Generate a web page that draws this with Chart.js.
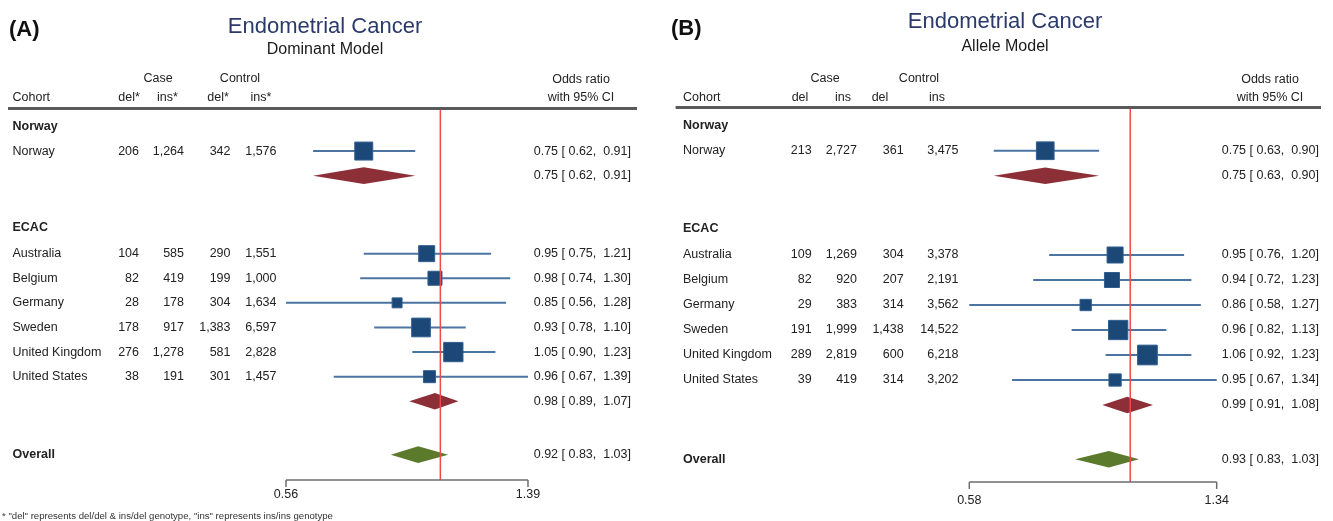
<!DOCTYPE html>
<html>
<head>
<meta charset="utf-8">
<script src="https://cdn.jsdelivr.net/npm/chart.js@4.4.1/dist/chart.umd.min.js"></script>
<style>
html,body{margin:0;padding:0;background:#fff;overflow:hidden;}
#wrap{position:relative;width:1333px;height:521px;background:#fff;}
canvas{position:absolute;top:0;}
#cA{left:0;}
#cB{left:665px;}
</style>
</head>
<body>
<div id="wrap">
<canvas id="cA" width="665" height="521"></canvas>
<canvas id="cB" width="668" height="521"></canvas>
</div>
<script>
// ---------- DATA ----------
const cohorts = ["Norway", "Australia", "Belgium", "Germany", "Sweden", "United Kingdom", "United States"];
const groupHeadings = ["Norway", "ECAC", "Overall"];

// (A) Dominant model
const domCaseDel = [206, 104, 82, 28, 178, 276, 38];
const domCaseIns = [1264, 585, 419, 178, 917, 1278, 191];
const domCtrlDel = [342, 290, 199, 304, 1383, 581, 301];
const domCtrlIns = [1576, 1551, 1000, 1634, 6597, 2828, 1457];
const domOR = [0.75, 0.95, 0.98, 0.85, 0.93, 1.05, 0.96];
const domLo = [0.62, 0.75, 0.74, 0.56, 0.78, 0.90, 0.67];
const domHi = [0.91, 1.21, 1.30, 1.28, 1.10, 1.23, 1.39];
const domWeight = [18.6, 14.7, 11.3, 5.7, 20.1, 21.4, 8.3];
const domPooledOR = [0.75, 0.98, 0.92];
const domPooledLo = [0.62, 0.89, 0.83];
const domPooledHi = [0.91, 1.07, 1.03];
const domTicks = [0.56, 1.39];

// (B) Allele model
const allCaseDel = [213, 109, 82, 29, 191, 289, 39];
const allCaseIns = [2727, 1269, 920, 383, 1999, 2819, 419];
const allCtrlDel = [361, 304, 207, 314, 1438, 600, 314];
const allCtrlIns = [3475, 3378, 2191, 3562, 14522, 6218, 3202];
const allOR = [0.75, 0.95, 0.94, 0.86, 0.96, 1.06, 0.95];
const allLo = [0.63, 0.76, 0.72, 0.58, 0.82, 0.92, 0.67];
const allHi = [0.90, 1.20, 1.23, 1.27, 1.13, 1.23, 1.34];
const allWeight = [17.1, 14.0, 12.3, 7.0, 20.3, 21.2, 8.2];
const allPooledOR = [0.75, 0.99, 0.93];
const allPooledLo = [0.63, 0.91, 0.83];
const allPooledHi = [0.90, 1.08, 1.03];
const allTicks = [0.58, 1.34];

// ---------- LAYOUT (row positions, in row units) ----------
const studyRows = [1, 5.17, 6.17, 7.17, 8.17, 9.17, 10.17];
const pooledRows = [2, 11.17, 13.34];
const headingRows = [0, 4.1, 13.34];

// ---------- STYLE ----------
const FONT = '"Liberation Sans", Arial, Helvetica, sans-serif';
const TXT = '#222';
const SQ = '#1b4877';
const SQ_EDGE = '#2f5e90';
const CI = '#4c74a1';
const DIA = ['#8c2f37', '#8c2f37', '#5b7a2b'];
const NULLC = '#f0494b';
const AXC = '#6d6d6d';
const DIAMOND_HALF = 8.3;

const fmtN = v => v.toLocaleString('en-US');
const f2 = v => v.toFixed(2);
const fmtCI = (o, l, h) => f2(o) + ' [ ' + f2(l) + ',  ' + f2(h) + ']';

function makePanel(canvasId, P) {
  const W = P.W, H = 521;
  const datasets = [];
  datasets.push({
    type: 'scatter',
    data: P.or.map((v, i) => ({ x: v, y: studyRows[i] })),
    pointStyle: 'rect',
    pointRadius: P.weight.map(w => P.k * Math.sqrt(w) / (2 * Math.SQRT1_2)),
    pointHoverRadius: P.weight.map(w => P.k * Math.sqrt(w) / (2 * Math.SQRT1_2)),
    backgroundColor: SQ,
    borderColor: SQ_EDGE,
    borderWidth: 1,
    clip: false,
    order: 1
  });
  P.lo.forEach((lo, i) => {
    datasets.push({
      type: 'line',
      data: [{ x: lo, y: studyRows[i] }, { x: P.hi[i], y: studyRows[i] }],
      borderColor: CI,
      borderWidth: 2,
      pointRadius: 0,
      fill: false,
      clip: false,
      order: 2
    });
  });

  const plugin = {
    id: 'forest' + canvasId,
    afterDatasetsDraw(chart) {
      const ctx = chart.ctx, xs = chart.scales.x, ys = chart.scales.y, ca = chart.chartArea;
      ctx.save();
      // pooled diamonds
      P.pOR.forEach((v, i) => {
        const y = ys.getPixelForValue(pooledRows[i]);
        const xl = xs.getPixelForValue(P.pLo[i]);
        const xm = xs.getPixelForValue(v);
        const xh = xs.getPixelForValue(P.pHi[i]);
        ctx.beginPath();
        ctx.moveTo(xl, y);
        ctx.lineTo(xm, y - DIAMOND_HALF);
        ctx.lineTo(xh, y);
        ctx.lineTo(xm, y + DIAMOND_HALF);
        ctx.closePath();
        ctx.fillStyle = DIA[i];
        ctx.fill();
      });
      // null line
      const x1 = xs.getPixelForValue(1);
      ctx.strokeStyle = NULLC;
      ctx.lineWidth = 1.5;
      ctx.beginPath();
      ctx.moveTo(x1, ca.top + 2);
      ctx.lineTo(x1, ca.bottom);
      ctx.stroke();
      // x axis
      const xa = xs.getPixelForValue(P.ticks[0]);
      const xb = xs.getPixelForValue(P.ticks[P.ticks.length - 1]);
      ctx.strokeStyle = AXC;
      ctx.lineWidth = 1.5;
      ctx.beginPath();
      ctx.moveTo(xa, ca.bottom);
      ctx.lineTo(xb, ca.bottom);
      ctx.stroke();
      P.ticks.forEach(t => {
        const xt = xs.getPixelForValue(t);
        ctx.beginPath();
        ctx.moveTo(xt, ca.bottom);
        ctx.lineTo(xt, ca.bottom + 7);
        ctx.stroke();
      });
      ctx.fillStyle = TXT;
      ctx.font = '12.5px ' + FONT;
      ctx.textAlign = 'center';
      ctx.textBaseline = 'middle';
      P.ticks.forEach(t => {
        ctx.fillText(f2(t), xs.getPixelForValue(t), ca.bottom + P.labelGap);
      });

      // header rule
      ctx.strokeStyle = '#5a5a5a';
      ctx.lineWidth = 3;
      ctx.beginPath();
      ctx.moveTo(P.rule[0], P.ruleY);
      ctx.lineTo(P.rule[1], P.ruleY);
      ctx.stroke();

      // titles
      ctx.textBaseline = 'middle';
      ctx.textAlign = 'left';
      ctx.fillStyle = '#111';
      ctx.font = 'bold 22px ' + FONT;
      ctx.fillText(P.tag, P.tagX, P.tagY);
      ctx.textAlign = 'center';
      ctx.fillStyle = '#2c3a6b';
      ctx.font = '22px ' + FONT;
      ctx.fillText('Endometrial Cancer', P.titleX, P.titleY);
      ctx.fillStyle = '#1a1a1a';
      ctx.font = '16px ' + FONT;
      ctx.fillText(P.subtitle, P.titleX, P.subY);

      // column headers
      ctx.fillStyle = TXT;
      ctx.font = '12.5px ' + FONT;
      ctx.textAlign = 'center';
      ctx.fillText('Case', P.caseX, 78.5);
      ctx.fillText('Control', P.ctrlX, 78.5);
      P.hdrX.forEach((x, i) => ctx.fillText(P.hdr[i], x, 98));
      ctx.fillText('Odds ratio', P.orHX, 80);
      ctx.fillText('with 95% CI', P.orHX, 98);
      ctx.textAlign = 'left';
      ctx.fillText('Cohort', P.labX, 98);

      // group headings
      ctx.font = 'bold 12.5px ' + FONT;
      groupHeadings.forEach((g, i) => {
        ctx.fillText(g, P.labX, ys.getPixelForValue(headingRows[i]));
      });

      // study rows
      ctx.font = '12.5px ' + FONT;
      cohorts.forEach((c, i) => {
        const y = ys.getPixelForValue(studyRows[i]);
        ctx.textAlign = 'left';
        ctx.fillText(c, P.labX, y);
        ctx.textAlign = 'right';
        ctx.fillText(fmtN(P.caseDel[i]), P.colR[0], y);
        ctx.fillText(fmtN(P.caseIns[i]), P.colR[1], y);
        ctx.fillText(fmtN(P.ctrlDel[i]), P.colR[2], y);
        ctx.fillText(fmtN(P.ctrlIns[i]), P.colR[3], y);
        ctx.fillText(fmtCI(P.or[i], P.lo[i], P.hi[i]), P.orR, y);
      });
      P.pOR.forEach((v, i) => {
        const y = ys.getPixelForValue(pooledRows[i]);
        ctx.textAlign = 'right';
        ctx.fillText(fmtCI(v, P.pLo[i], P.pHi[i]), P.orR, y);
      });

      if (P.footnote) {
        ctx.textAlign = 'left';
        ctx.font = '9.6px ' + FONT;
        ctx.fillStyle = '#333';
        ctx.fillText(P.footnote, 2, 516);
      }
      ctx.restore();
    }
  };

  return new Chart(document.getElementById(canvasId), {
    type: 'scatter',
    data: { datasets },
    options: {
      responsive: false,
      animation: false,
      devicePixelRatio: 1,
      events: [],
      layout: { padding: { left: P.area.left, right: W - P.area.right, top: P.area.top, bottom: H - P.area.bottom } },
      scales: {
        x: { type: 'logarithmic', min: P.ticks[0], max: P.ticks[P.ticks.length - 1], display: false },
        y: { type: 'linear', min: -0.75, max: P.yMax, reverse: true, display: false }
      },
      plugins: { legend: { display: false }, tooltip: { enabled: false } }
    },
    plugins: [plugin]
  });
}

makePanel('cA', {
  W: 665,
  caseDel: domCaseDel, caseIns: domCaseIns, ctrlDel: domCtrlDel, ctrlIns: domCtrlIns,
  or: domOR, lo: domLo, hi: domHi, weight: domWeight, k: 4.17,
  pOR: domPooledOR, pLo: domPooledLo, pHi: domPooledHi, ticks: domTicks,
  area: { left: 286, right: 528, top: 108, bottom: 480 }, yMax: 14.37, labelGap: 15,
  rule: [8, 637], ruleY: 108.5,
  tag: '(A)', tagX: 9, tagY: 30, titleX: 325, titleY: 27, subY: 50, subtitle: 'Dominant Model',
  caseX: 158, ctrlX: 240, hdr: ['del*', 'ins*', 'del*', 'ins*'], hdrX: [129, 167.5, 218, 261],
  orHX: 581, labX: 12.5, colR: [139, 184, 230.5, 276.5], orR: 631,
  footnote: '* "del" represents del/del & ins/del genotype, "ins" represents ins/ins genotype'
});

makePanel('cB', {
  W: 668,
  caseDel: allCaseDel, caseIns: allCaseIns, ctrlDel: allCtrlDel, ctrlIns: allCtrlIns,
  or: allOR, lo: allLo, hi: allHi, weight: allWeight, k: 4.28,
  pOR: allPooledOR, pLo: allPooledLo, pHi: allPooledHi, ticks: allTicks,
  area: { left: 304.3, right: 551.7, top: 107, bottom: 482 }, yMax: 14.25, labelGap: 19,
  rule: [10.6, 656], ruleY: 107.5,
  tag: '(B)', tagX: 6, tagY: 29, titleX: 340, titleY: 22, subY: 47, subtitle: 'Allele Model',
  caseX: 160, ctrlX: 254, hdr: ['del', 'ins', 'del', 'ins'], hdrX: [135, 178, 215, 272],
  orHX: 605, labX: 18, colR: [146.6, 192, 238.7, 293.5], orR: 654,
  footnote: null
});
</script>
</body>
</html>
